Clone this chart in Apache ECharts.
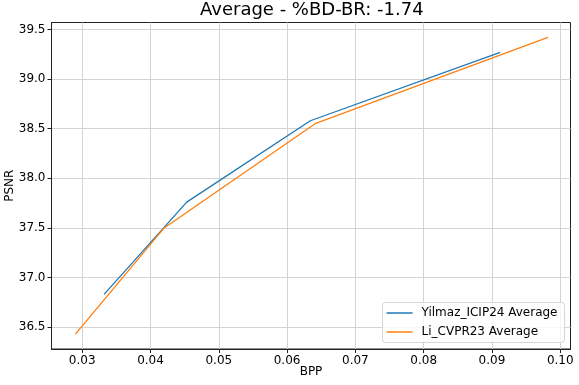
<!DOCTYPE html>
<html>
<head>
<meta charset="utf-8">
<script src="https://cdn.jsdelivr.net/npm/echarts@6/dist/echarts.min.js"></script>
<style>
  html, body { margin: 0; padding: 0; background: #fff; }
  #chart { width: 579px; height: 385px; }
</style>
</head>
<body>
<div id="chart"></div>
<script>
// values
const yilmazBpp = [0.0332, 0.0453, 0.0634, 0.0912];
const yilmazPsnr = [36.83, 37.76, 38.58, 39.27];
const liBpp = [0.029, 0.042, 0.0641, 0.0982];
const liPsnr = [36.43, 37.50, 38.55, 39.42];
const xTicks = [0.03, 0.04, 0.05, 0.06, 0.07, 0.08, 0.09, 0.1];
const yTicks = [36.5, 37.0, 37.5, 38.0, 38.5, 39.0, 39.5];

const font = "DejaVu Sans";
const pair = (xs, ys) => xs.map((x, i) => [x, ys[i]]);

const chartDom = document.getElementById("chart");
const myChart = echarts.init(chartDom, null, { renderer: "canvas" });

myChart.setOption({
  animation: false,
  backgroundColor: "#fff",
  title: {
    text: "Average - %BD-BR: -1.74",
    left: 200,
    top: 1,
    padding: 0,
    textStyle: { fontFamily: font, fontSize: 18, fontWeight: "normal", color: "#000" },
  },
  grid: {
    left: 51.5,
    right: 8.5,
    top: 22.5,
    bottom: 36,
    containLabel: false,
    outerBoundsMode: "none",
    show: true,
    borderColor: "#222",
    borderWidth: 1,
  },
  legend: {
    orient: "vertical",
    right: 14.5,
    bottom: 42.5,
    padding: [3.5, 7, 3.5, 4],
    itemGap: 5,
    itemWidth: 26,
    itemHeight: 1.5,
    icon: "rect",
    borderColor: "#d6d6d6",
    borderWidth: 1,
    borderRadius: 3,
    backgroundColor: "rgba(255,255,255,0.8)",
    textStyle: { fontFamily: font, fontSize: 12, color: "#000", lineHeight: 14, padding: [0, 0, 0, 4] },
    data: ["Yilmaz_ICIP24 Average", "Li_CVPR23 Average"],
  },
  xAxis: {
    type: "value",
    min: 0.0255,
    max: 0.1015,
    splitNumber: 8,
    name: "BPP",
    nameLocation: "middle",
    nameGap: 17,
    nameMoveOverlap: false,
    nameTextStyle: { fontFamily: font, fontSize: 12, color: "#000" },
    axisLine: { show: true, onZero: false, lineStyle: { color: "#222", width: 1 } },
    axisTick: { show: true, length: 4, customValues: xTicks, lineStyle: { color: "#222" } },
    axisLabel: {
      customValues: xTicks,
      margin: 6,
      fontFamily: font,
      fontSize: 12,
      color: "#000",
      formatter: (v) => v.toFixed(2),
    },
    splitLine: { show: true, lineStyle: { color: "#d3d3d3", width: 1 } },
  },
  yAxis: {
    type: "value",
    min: 36.28,
    max: 39.57,
    splitNumber: 6,
    name: "PSNR",
    nameLocation: "middle",
    nameGap: 36,
    nameMoveOverlap: false,
    nameTextStyle: { fontFamily: font, fontSize: 12, color: "#000" },
    axisLine: { show: true, onZero: false, lineStyle: { color: "#222", width: 1 } },
    axisTick: { show: true, length: 4, customValues: yTicks, lineStyle: { color: "#222" } },
    axisLabel: {
      customValues: yTicks,
      margin: 6,
      fontFamily: font,
      fontSize: 12,
      color: "#000",
      formatter: (v) => v.toFixed(1),
    },
    splitLine: { show: true, lineStyle: { color: "#d3d3d3", width: 1 } },
  },
  series: [
    {
      name: "Yilmaz_ICIP24 Average",
      type: "line",
      data: pair(yilmazBpp, yilmazPsnr),
      showSymbol: false,
      color: "#1f77b4",
      lineStyle: { width: 1.3, color: "#1f77b4" },
    },
    {
      name: "Li_CVPR23 Average",
      type: "line",
      data: pair(liBpp, liPsnr),
      showSymbol: false,
      color: "#ff7f0e",
      lineStyle: { width: 1.3, color: "#ff7f0e" },
    },
  ],
});
</script>
</body>
</html>
